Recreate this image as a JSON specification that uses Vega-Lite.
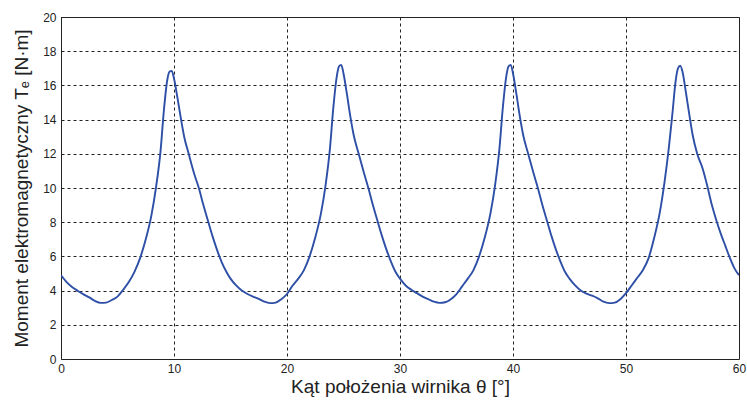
{
  "$schema": "https://vega.github.io/schema/vega-lite/v6.json",
  "width": 678,
  "height": 342,
  "autosize": {"type": "none"},
  "padding": {"left": 61, "top": 17, "right": 8, "bottom": 43},
  "background": "white",
  "config": {
    "view": {"stroke": "#222", "strokeWidth": 1},
    "font": "Liberation Sans"
  },
  "data": {
    "values": [
      {"theta": 0, "T": 4.9}, {"theta": 0.5, "T": 4.5}, {"theta": 1.0, "T": 4.2}, {"theta": 1.5, "T": 3.98},
      {"theta": 2.0, "T": 3.78}, {"theta": 2.5, "T": 3.6}, {"theta": 3.0, "T": 3.4}, {"theta": 3.5, "T": 3.28},
      {"theta": 4.0, "T": 3.3}, {"theta": 4.5, "T": 3.45}, {"theta": 5.0, "T": 3.65}, {"theta": 5.5, "T": 4.05},
      {"theta": 6.0, "T": 4.5}, {"theta": 6.5, "T": 5.1}, {"theta": 7.0, "T": 5.9}, {"theta": 7.5, "T": 7.0},
      {"theta": 8.0, "T": 8.4}, {"theta": 8.4, "T": 10.0}, {"theta": 8.8, "T": 12.1}, {"theta": 9.1, "T": 14.5},
      {"theta": 9.4, "T": 16.3}, {"theta": 9.6, "T": 16.8}, {"theta": 9.8, "T": 16.85}, {"theta": 10.0, "T": 16.4},
      {"theta": 10.3, "T": 15.3}, {"theta": 10.6, "T": 14.1}, {"theta": 10.9, "T": 13.0}, {"theta": 11.3, "T": 12.0},
      {"theta": 11.8, "T": 10.8}, {"theta": 12.2, "T": 10.0}, {"theta": 12.6, "T": 9.0}, {"theta": 13.0, "T": 8.1},
      {"theta": 13.4, "T": 7.2}, {"theta": 13.8, "T": 6.4}, {"theta": 14.2, "T": 5.7}, {"theta": 14.6, "T": 5.15},
      {"theta": 15.0, "T": 4.7}, {"theta": 15.5, "T": 4.3}, {"theta": 16.0, "T": 4.0}, {"theta": 16.5, "T": 3.8},
      {"theta": 17.0, "T": 3.65}, {"theta": 17.5, "T": 3.52}, {"theta": 18.0, "T": 3.35}, {"theta": 18.5, "T": 3.27},
      {"theta": 19.0, "T": 3.3}, {"theta": 19.5, "T": 3.5}, {"theta": 20.0, "T": 3.8}, {"theta": 20.5, "T": 4.3},
      {"theta": 21.0, "T": 4.7}, {"theta": 21.5, "T": 5.2}, {"theta": 22.0, "T": 6.0}, {"theta": 22.5, "T": 7.1},
      {"theta": 23.0, "T": 8.5}, {"theta": 23.4, "T": 10.1}, {"theta": 23.8, "T": 12.3}, {"theta": 24.1, "T": 14.7},
      {"theta": 24.4, "T": 16.5}, {"theta": 24.6, "T": 17.1}, {"theta": 24.8, "T": 17.2}, {"theta": 25.0, "T": 16.7},
      {"theta": 25.3, "T": 15.5}, {"theta": 25.6, "T": 14.2}, {"theta": 25.9, "T": 13.1}, {"theta": 26.3, "T": 12.1},
      {"theta": 26.8, "T": 10.9}, {"theta": 27.2, "T": 10.0}, {"theta": 27.6, "T": 9.0}, {"theta": 28.0, "T": 8.1},
      {"theta": 28.4, "T": 7.2}, {"theta": 28.8, "T": 6.4}, {"theta": 29.2, "T": 5.7}, {"theta": 29.6, "T": 5.1},
      {"theta": 30.0, "T": 4.7}, {"theta": 30.5, "T": 4.3}, {"theta": 31.0, "T": 4.05}, {"theta": 31.5, "T": 3.85},
      {"theta": 32.0, "T": 3.65}, {"theta": 32.5, "T": 3.5}, {"theta": 33.0, "T": 3.35}, {"theta": 33.5, "T": 3.28},
      {"theta": 34.0, "T": 3.32}, {"theta": 34.5, "T": 3.5}, {"theta": 35.0, "T": 3.8}, {"theta": 35.5, "T": 4.25},
      {"theta": 36.0, "T": 4.7}, {"theta": 36.5, "T": 5.2}, {"theta": 37.0, "T": 6.0}, {"theta": 37.5, "T": 7.1},
      {"theta": 38.0, "T": 8.5}, {"theta": 38.4, "T": 10.1}, {"theta": 38.8, "T": 12.3}, {"theta": 39.1, "T": 14.7},
      {"theta": 39.4, "T": 16.5}, {"theta": 39.6, "T": 17.1}, {"theta": 39.8, "T": 17.2}, {"theta": 40.0, "T": 16.7},
      {"theta": 40.3, "T": 15.5}, {"theta": 40.6, "T": 14.2}, {"theta": 40.9, "T": 13.1}, {"theta": 41.3, "T": 12.1},
      {"theta": 41.8, "T": 10.9}, {"theta": 42.2, "T": 10.0}, {"theta": 42.6, "T": 9.0}, {"theta": 43.0, "T": 8.1},
      {"theta": 43.4, "T": 7.2}, {"theta": 43.8, "T": 6.4}, {"theta": 44.2, "T": 5.7}, {"theta": 44.6, "T": 5.1},
      {"theta": 45.0, "T": 4.7}, {"theta": 45.5, "T": 4.3}, {"theta": 46.0, "T": 4.0}, {"theta": 46.5, "T": 3.82},
      {"theta": 47.0, "T": 3.7}, {"theta": 47.5, "T": 3.55}, {"theta": 48.0, "T": 3.35}, {"theta": 48.5, "T": 3.27},
      {"theta": 49.0, "T": 3.3}, {"theta": 49.5, "T": 3.5}, {"theta": 50.0, "T": 3.85}, {"theta": 50.5, "T": 4.3},
      {"theta": 51.0, "T": 4.75}, {"theta": 51.5, "T": 5.2}, {"theta": 52.0, "T": 5.9}, {"theta": 52.5, "T": 7.1},
      {"theta": 53.0, "T": 8.6}, {"theta": 53.4, "T": 10.3}, {"theta": 53.8, "T": 12.4}, {"theta": 54.1, "T": 14.3},
      {"theta": 54.4, "T": 16.3}, {"theta": 54.6, "T": 17.0}, {"theta": 54.8, "T": 17.15}, {"theta": 55.0, "T": 16.8},
      {"theta": 55.3, "T": 15.6}, {"theta": 55.6, "T": 14.3}, {"theta": 55.9, "T": 13.1}, {"theta": 56.3, "T": 12.0},
      {"theta": 56.8, "T": 11.1}, {"theta": 57.2, "T": 10.1}, {"theta": 57.6, "T": 9.0}, {"theta": 58.0, "T": 8.1},
      {"theta": 58.4, "T": 7.3}, {"theta": 58.8, "T": 6.6}, {"theta": 59.2, "T": 5.9}, {"theta": 59.6, "T": 5.3},
      {"theta": 60.0, "T": 4.9}
    ]
  },
  "mark": {"type": "line", "color": "#2d4fa6", "strokeWidth": 1.9, "interpolate": "monotone", "clip": true},
  "encoding": {
    "x": {
      "field": "theta", "type": "quantitative",
      "scale": {"domain": [0, 60], "nice": false, "zero": false},
      "axis": {
        "title": "Kąt położenia wirnika θ [°]",
        "values": [0, 10, 20, 30, 40, 50, 60],
        "grid": true, "gridColor": "#222", "gridDash": [3, 3], "gridOpacity": 1, "gridWidth": 1,
        "domain": false, "ticks": false,
        "labelFont": "Liberation Sans", "labelFontSize": 12, "labelColor": "#222", "labelPadding": 4,
        "labelFlush": false,
        "titleFont": "Liberation Sans", "titleFontSize": 19, "titleFontWeight": "normal", "titleColor": "#222",
        "titlePadding": 3
      }
    },
    "y": {
      "field": "T", "type": "quantitative",
      "scale": {"domain": [0, 20], "nice": false},
      "axis": {
        "title": "Moment elektromagnetyczny   Tₑ [N·m]",
        "values": [0, 2, 4, 6, 8, 10, 12, 14, 16, 18, 20],
        "grid": true, "gridColor": "#222", "gridDash": [3, 3], "gridOpacity": 1, "gridWidth": 1,
        "domain": false, "ticks": false,
        "labelFont": "Liberation Sans", "labelFontSize": 12, "labelColor": "#222", "labelPadding": 5,
        "labelFlush": false,
        "titleFont": "Liberation Sans", "titleFontSize": 19, "titleFontWeight": "normal", "titleColor": "#222",
        "titlePadding": 11
      }
    }
  }
}
